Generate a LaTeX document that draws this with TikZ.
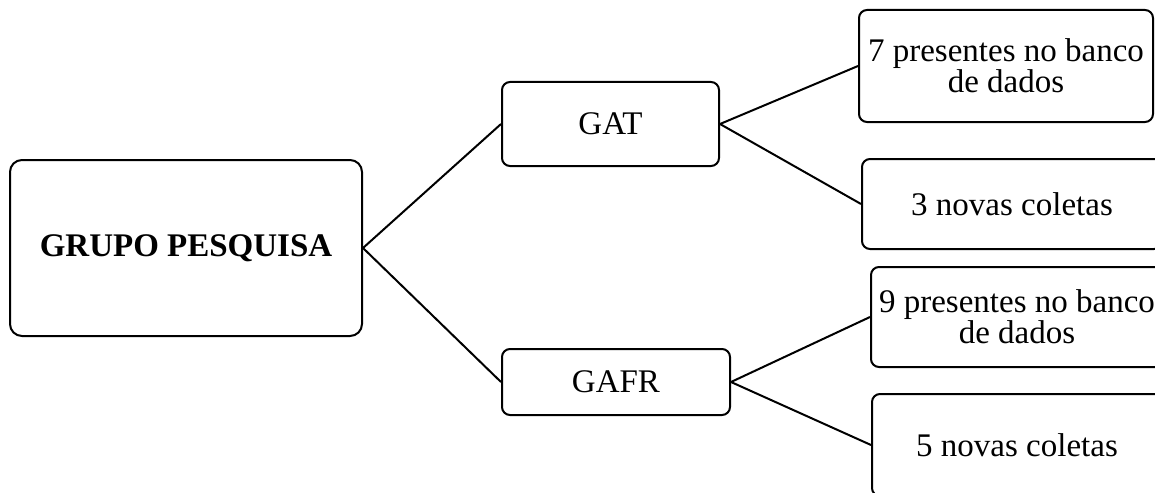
\documentclass[tikz,border=0pt]{standalone}
\usepackage{fontspec}
\setmainfont{Liberation Serif}
\usepackage{tikz}
\usetikzlibrary{positioning}
\tikzset{
  rootbox/.style={
    draw,
    rectangle,
    rounded corners=6pt,
    minimum width=176pt,
    minimum height=88pt,
    line width=1pt,
    font=\fontsize{16.5}{15}\selectfont\bfseries,
  },
  groupbox/.style={
    draw,
    rectangle,
    rounded corners=4pt,
    line width=1pt,
    font=\fontsize{16.5}{15}\selectfont,
  },
  leafbox/.style={
    draw,
    rectangle,
    rounded corners=4pt,
    align=center,
    inner sep=0pt,
    line width=1pt,
    font=\fontsize{16.5}{15.5}\selectfont,
  },
  link/.style={line width=1pt},
}

\begin{document}
\begin{tikzpicture}[x=0.5pt,y=-0.5pt]
  \useasboundingbox (0,0) rectangle (1155,492);
  \clip (0,0) rectangle (1155,492);
  \node[rootbox] (grupo) at (186,248) {GRUPO PESQUISA};
  \node[groupbox, minimum width=108.5pt, minimum height=42pt] (gat) at (610.5,124) {GAT};
  \node[groupbox, minimum width=114pt, minimum height=33pt] (gafr) at (616,382) {GAFR};
  \node[leafbox, minimum width=147pt, minimum height=56pt] (gatbanco) at (1006,66) {7 presentes no banco\\de dados};
  \node[leafbox, minimum width=150pt, minimum height=45pt] (gatcoleta) at (1012,204) {3 novas coletas};
  \node[leafbox, minimum width=146pt, minimum height=50pt] (gafrbanco) at (1017,317) {9 presentes no banco\\de dados};
  \node[leafbox, minimum width=145pt, minimum height=51pt] (gafrcoleta) at (1017,445) {5 novas coletas};
  \draw[link] (grupo.east) -- (gat.west);
  \draw[link] (grupo.east) -- (gafr.west);
  \draw[link] (gat.east) -- (gatbanco.west);
  \draw[link] (gat.east) -- (gatcoleta.west);
  \draw[link] (gafr.east) -- (gafrbanco.west);
  \draw[link] (gafr.east) -- (gafrcoleta.west);
\end{tikzpicture}
\end{document}
